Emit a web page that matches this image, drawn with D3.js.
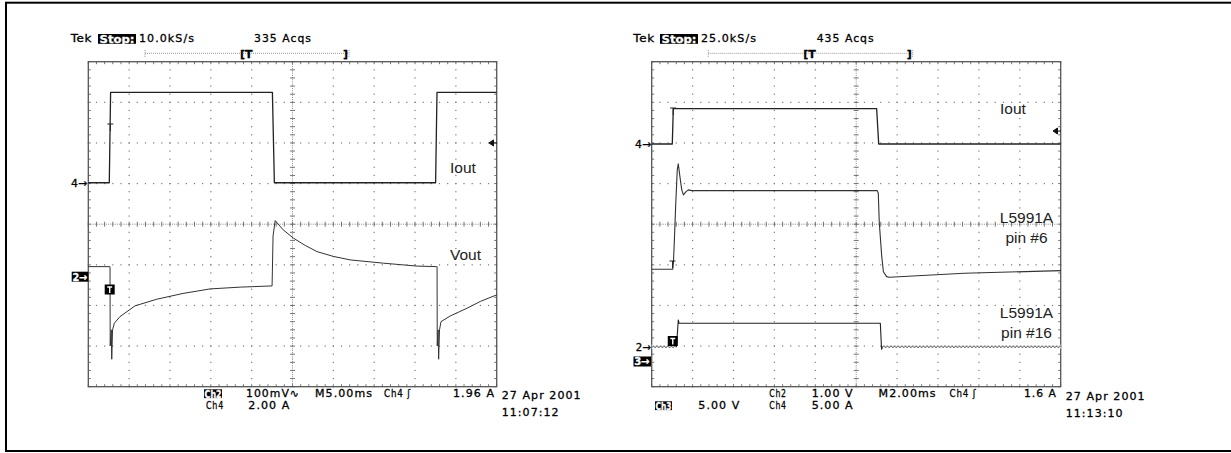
<!DOCTYPE html>
<html><head><meta charset="utf-8">
<script src="https://cdn.jsdelivr.net/npm/d3@7"></script>
<style>body{margin:0;background:#fff}svg{display:block}</style>
</head><body>
<svg id="c" width="1231" height="453"></svg>
<script>
// ================= DATA =================
// Left capture: M 5.00 ms/div, time in ms
const leftIoutT  = [0, 2.57, 2.73, 22.54, 22.78, 42.52, 42.69, 50];
const leftIoutA  = [0, 0, 4.45, 4.45, 0, 0, 4.45, 4.45];           // Ch4, 2.00 A/div
const leftVoutT  = [0, 2.57, 2.66, 2.68, 2.81, 2.87, 2.97, 3.19, 3.88, 5.72, 8.38, 11.6, 14.91, 18.6, 22.5, 22.62, 22.88, 23.86, 25.12, 26.55, 27.99, 29.99, 32.07, 36.15, 40.24, 42.6, 42.7, 42.72, 42.83, 42.89, 43.0, 43.18, 44.32, 46.37, 48.0, 50];
const leftVoutMV = [24.6, 24.6, 24.6, -170.7, -131, -203.4, -131, -114.8, -98.5, -72, -55.7, -41.4, -30.3, -25.9, -22.9, 100, 137.9, 115, 94.6, 76.8, 61.6, 49.8, 41.1, 33, 25.9, 24.6, 24.6, -170.7, -131, -203.4, -131, -110.8, -96.8, -77.8, -61.1, -45]; // Ch2, 100 mV/div AC

// Right capture: M 2.00 ms/div, time in ms
const rightIoutT = [0, 1.007, 1.056, 11.0, 11.1, 20];
const rightIoutA = [0, 0, 4.35, 4.35, 0, 0];                        // Ch4, 5.00 A/div
const pin6T = [0, 1.03, 1.06, 1.11, 1.17, 1.25, 1.30, 1.38, 1.47, 1.55, 1.68, 1.79, 1.96, 11.03, 11.08, 11.13, 11.25, 11.33, 11.49, 11.63, 15.28, 20];
const pin6V = [11.38, 11.38, 12.12, 14.99, 19.09, 23.61, 24.35, 22.78, 21.15, 20.53, 20.94, 21.15, 21.06, 21.06, 20.74, 17.04, 12.93, 11.08, 10.47, 10.39, 10.89, 11.21]; // Ch3, 5.00 V/div
const pin16T = [0, 1.21, 1.30, 1.34, 11.18, 11.24, 11.3, 20];
const pin16V = [0, 0, 0.658, 0.576, 0.576, -0.064, 0, 0];           // Ch2, 1.00 V/div
const pin16RippleSpans = [[0, 1.19], [11.3, 20]];

// Texts
const leftHeader  = {rate: "10.0kS/s", acqs: "335 Acqs"};
const rightHeader = {rate: "25.0kS/s", acqs: "435 Acqs"};
const leftFooter  = {ch2: "100mV\u223F", time: "M5.00ms", trig: "Ch4 \u0283", level: "1.96 A", ch4: "2.00 A", date: "27 Apr 2001", clock: "11:07:12"};
const rightFooter = {ch2: "1.00 V", time: "M2.00ms", trig: "Ch4 \u0283", level: "1.6 A", ch3: "5.00 V", ch4: "5.00 A", date: "27 Apr 2001", clock: "11:13:10"};

// ================= LAYOUT =================
const svg = d3.select("#c");
const TEK = "DejaVu Sans";
const LAB = "Liberation Sans, Arial, sans-serif";

svg.append("rect").attr("x", 6).attr("y", 2.7).attr("width", 1230).attr("height", 448.3)
  .attr("fill", "none").attr("stroke", "#000").attr("stroke-width", 2);

const defs = svg.append("defs");

function T(x, y, s, o = {}) {
  const t = svg.append("text").attr("x", x).attr("y", y).text(s)
    .attr("font-family", o.ff || TEK).attr("font-size", o.fs || 11)
    .attr("letter-spacing", o.ls !== undefined ? o.ls : 1.05)
    .attr("font-weight", o.fw || "normal")
    .attr("fill", o.fill || "#000").attr("text-anchor", o.anchor || "start");
  if (!o.ff) t.attr("stroke", o.fill || "#000").attr("stroke-width", 0.3);
  if (o.len) t.attr("textLength", o.len).attr("lengthAdjust", "spacingAndGlyphs");
  return t;
}
function boxT(x, y, w, h, s, tx, ty, len) {
  svg.append("rect").attr("x", x).attr("y", y).attr("width", w).attr("height", h).attr("fill", "#000");
  T(tx, ty, s, {fill: "#fff", fw: "bold", ls: 0, len: len, fs: 10.5});
}

function graticule(L) {
  const g = svg.append("g");
  const gx = d3.scaleLinear([0, 10], [L.x0, L.x0 + L.w]);
  const gy = d3.scaleLinear([0, 8], [L.y0, L.y0 + L.h]);
  const dots = [];
  for (let i = 1; i < 10; i++) if (i !== 5) d3.range(0, 40.5, 1).forEach(k => dots.push([gx(i), gy(k / 5)]));
  for (let j = 1; j < 8; j++) if (j !== 4) d3.range(0, 50.5, 1).forEach(k => dots.push([gx(k / 5), gy(j)]));
  g.selectAll(null).data(dots).join("rect")
    .attr("x", d => d[0] - 0.6).attr("y", d => d[1] - 0.6).attr("width", 1.2).attr("height", 1.2).attr("fill", "#7a7a7a");
  // centre cross
  g.append("line").attr("x1", gx(5)).attr("x2", gx(5)).attr("y1", L.y0).attr("y2", L.y0 + L.h)
    .attr("stroke", "#888").attr("stroke-dasharray", "1,1.2");
  g.append("line").attr("y1", gy(4)).attr("y2", gy(4)).attr("x1", L.x0).attr("x2", L.x0 + L.w)
    .attr("stroke", "#888").attr("stroke-dasharray", "1,1.2");
  const ticks = [];
  d3.range(0, 40.5, 1).forEach(k => {
    const y = gy(k / 5);
    ticks.push([gx(5) - 2.5, y, gx(5) + 2.5, y]);
    ticks.push([L.x0, y, L.x0 + 2.5, y]);
    ticks.push([L.x0 + L.w - 2.5, y, L.x0 + L.w, y]);
  });
  d3.range(0, 50.5, 1).forEach(k => {
    const x = gx(k / 5);
    ticks.push([x, gy(4) - 2.5, x, gy(4) + 2.5]);
    ticks.push([x, L.y0, x, L.y0 + 2.5]);
    ticks.push([x, L.y0 + L.h - 2.5, x, L.y0 + L.h]);
  });
  g.selectAll(null).data(ticks).join("line")
    .attr("x1", d => d[0]).attr("y1", d => d[1]).attr("x2", d => d[2]).attr("y2", d => d[3])
    .attr("stroke", "#666").attr("stroke-width", 0.9);
  g.append("rect").attr("x", L.x0).attr("y", L.y0).attr("width", L.w).attr("height", L.h)
    .attr("fill", "none").attr("stroke", "#555").attr("stroke-width", 1.3);
}

function trace(xs, ts, vs, ys, o = {}) {
  const pts = ts.map((t, i) => [xs(t), ys(vs[i])]);
  svg.append("path").attr("d", d3.line()(pts)).attr("fill", "none")
    .attr("stroke", o.c || "#222").attr("stroke-width", o.w || 1.2).attr("stroke-linejoin", "round");
}

function header(hx, h) {
  T(hx.tek, 41.7, "Tek", {ls: 0.6, len: 21.5});
  boxT(hx.stop, 34, 38, 9.8, "Stop:", hx.stop + 1.5, 42.6, 35);
  T(hx.stop + 41, 41.7, h.rate, {len: 56});
  T(hx.acqs, 41.7, h.acqs, {len: 58});
  const y = 53.3;
  svg.append("line").attr("x1", hx.bar0).attr("x2", hx.bar1).attr("y1", y).attr("y2", y)
    .attr("stroke", "#999").attr("stroke-dasharray", "1,1");
  [hx.bar0, hx.bar1].forEach(x => svg.append("line").attr("x1", x).attr("x2", x).attr("y1", y - 3.5).attr("y2", y + 3.5)
    .attr("stroke", "#999").attr("stroke-dasharray", "1,1"));
  T(hx.brk, 57.8, "[T", {fw: "bold", ls: 0, fs: 11});
  T(hx.bar1 - 6, 57.8, "]", {fw: "bold", ls: 0, fs: 11});
}

function trigArrow(x, y) {
  svg.append("path").attr("d", `M${x},${y} l4.5,-3 v6 z M${x + 4},${y} h4`)
    .attr("fill", "#111").attr("stroke", "#111").attr("stroke-width", 1);
}
function smallT(x, y) {
  svg.append("path").attr("d", `M${x - 3},${y} h6 M${x},${y} v7`).attr("stroke", "#222").attr("stroke-width", 1).attr("fill", "none");
}
function boxedT(x, y) {
  svg.append("rect").attr("x", x - 5).attr("y", y - 5).attr("width", 10).attr("height", 10).attr("fill", "#000");
  svg.append("path").attr("d", `M${x - 2.5},${y - 2.5} h5 M${x},${y - 2.5} v6`).attr("stroke", "#fff").attr("stroke-width", 1.4);
}

// ================= LEFT SCOPE =================
const LL = {x0: 88.3, y0: 61.7, w: 408.4, h: 325};
graticule(LL);
const lx = d3.scaleLinear([0, 50], [LL.x0, LL.x0 + LL.w]);
const ldiv = d3.scaleLinear([-4, 4], [LL.y0 + LL.h, LL.y0]);
const lI = v => ldiv(1.02 + v / 2.0);
const lV = v => ldiv(-1.29 + v / 100);
trace(lx, leftIoutT, leftIoutA, lI, {w: 1.3});
trace(lx, leftVoutT, leftVoutMV, lV, {w: 1, c: "#333"});
T(71, 186.5, "4\u2192", {ls: 0, len: 16});
boxT(71.7, 271.7, 16.6, 10, "2\u2192", 72.5, 280.6, 15);
trigArrow(489, lI(1.96));
smallT(lx(2.7), 124);
boxedT(lx(2.62), 289.5);
T(450, 173.3, "Iout", {ff: LAB, fs: 15.5, ls: 0, fill: "#222"});
T(450, 260, "Vout", {ff: LAB, fs: 15.5, ls: 0, fill: "#222"});
header({tek: 70.7, stop: 98, acqs: 254, bar0: 145, bar1: 349, brk: 240}, leftHeader);
boxT(204, 389.3, 18, 8.8, "Ch2", 204.6, 397.5, 17);
T(246, 397.3, leftFooter.ch2, {len: 54});
T(315, 397.3, leftFooter.time, {len: 58});
T(384, 397.3, leftFooter.trig, {len: 27});
T(453, 397.3, leftFooter.level, {len: 42});
T(206, 409.3, "Ch4", {len: 18});
T(248.3, 409.3, leftFooter.ch4, {len: 42});
T(501.7, 398.5, leftFooter.date, {len: 80});
T(501.7, 415.9, leftFooter.clock, {len: 58});

// ================= RIGHT SCOPE =================
const RL = {x0: 651.7, y0: 61.7, w: 409, h: 325};
graticule(RL);
const rx = d3.scaleLinear([0, 20], [RL.x0, RL.x0 + RL.w]);
const rdiv = d3.scaleLinear([-4, 4], [RL.y0 + RL.h, RL.y0]);
const rI = v => rdiv(1.974 + v / 5);
const r6 = v => rdiv(-3.385 + v / 5);
const r16 = v => rdiv(-3.015 + v / 1);
trace(rx, rightIoutT, rightIoutA, rI, {w: 1.3});
trace(rx, pin6T, pin6V, r6, {w: 1.1, c: "#333"});
// pin #16: high pulse drawn as a line, low level shown as ripple
trace(rx, pin16T, pin16V, r16, {w: 1.1});
const ry0 = r16(0);
svg.selectAll(null).data(pin16RippleSpans).join("rect")
  .attr("x", d => rx(d[0])).attr("width", d => rx(d[1]) - rx(d[0]))
  .attr("y", ry0 - 2).attr("height", 4).attr("fill", "#fff");
const pat = defs.append("pattern").attr("id", "zig").attr("patternUnits", "userSpaceOnUse")
  .attr("x", 0).attr("y", ry0 - 2).attr("width", 3.6).attr("height", 4);
pat.append("path").attr("d", "M0,3 L1.8,1 L3.6,3").attr("fill", "none").attr("stroke", "#333").attr("stroke-width", 0.9);
svg.selectAll(null).data(pin16RippleSpans).join("rect")
  .attr("x", d => rx(d[0])).attr("width", d => rx(d[1]) - rx(d[0]))
  .attr("y", ry0 - 2).attr("height", 4).attr("fill", "url(#zig)");
T(635, 147.8, "4\u2192", {ls: 0, len: 16});
T(635.7, 350.5, "2\u2192", {ls: 0, len: 15});
boxT(633.5, 356.5, 17.5, 10, "3\u2192", 634.3, 365.4, 15.5);
trigArrow(1053, rI(1.6));
smallT(rx(1.02), 261);
smallT(rx(1.05), 108);
boxedT(rx(1.03), 341);
T(1000, 114, "Iout", {ff: LAB, fs: 15.5, ls: 0, fill: "#222"});
T(1026.5, 223.3, "L5991A", {ff: LAB, fs: 15.5, ls: 0, fill: "#222", anchor: "middle"});
T(1026.5, 243.3, "pin #6", {ff: LAB, fs: 15.5, ls: 0, fill: "#222", anchor: "middle"});
T(1026.5, 318.3, "L5991A", {ff: LAB, fs: 15.5, ls: 0, fill: "#222", anchor: "middle"});
T(1026.5, 337.7, "pin #16", {ff: LAB, fs: 15.5, ls: 0, fill: "#222", anchor: "middle"});
header({tek: 633.3, stop: 660, acqs: 816.7, bar0: 708.3, bar1: 912.7, brk: 803.3}, rightHeader);
T(769.3, 397.3, "Ch2", {len: 17.5});
T(811.7, 397.3, rightFooter.ch2, {len: 42});
T(878.6, 397.3, rightFooter.time, {len: 58});
T(949.6, 397.3, rightFooter.trig, {len: 27});
T(1024, 397.3, rightFooter.level, {len: 33});
boxT(655, 401.3, 17, 8.8, "Ch3", 655.5, 409.5, 16);
T(698.3, 409.3, rightFooter.ch3, {len: 42});
T(769.3, 409.3, "Ch4", {len: 17.5});
T(811.7, 409.3, rightFooter.ch4, {len: 42});
T(1065.7, 399.5, rightFooter.date, {len: 80});
T(1065.7, 416.5, rightFooter.clock, {len: 58});
</script>
</body></html>
